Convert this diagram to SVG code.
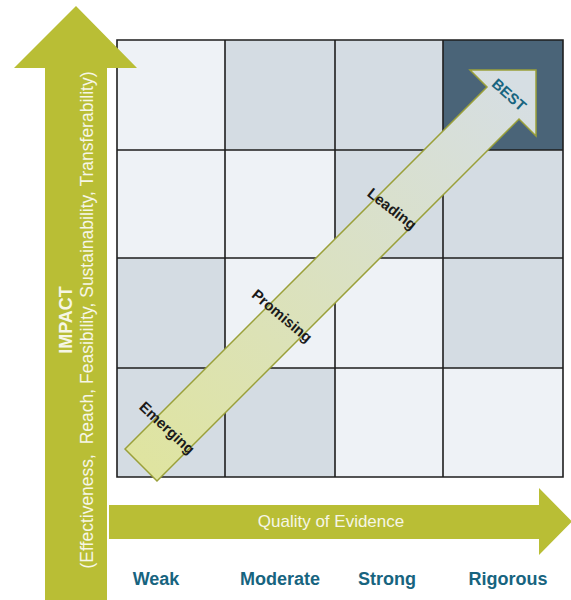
<svg xmlns="http://www.w3.org/2000/svg" width="571" height="600" viewBox="0 0 571 600">
<defs>
<style>
.cl{fill:#eef2f6}
.cm{fill:#d4dce3}
.cd{fill:#4a6478}
.gl{stroke:#1e1e1e;stroke-width:1.6;fill:none}
.axis{fill:#b9be35}
.axt{font-family:"Liberation Sans",Arial,sans-serif;fill:#f6f6e6}
.lvl{font-family:"Liberation Sans",Arial,sans-serif;font-weight:bold;font-size:15px;fill:#1a1a1a;text-anchor:middle}
.q{font-family:"Liberation Sans",Arial,sans-serif;font-weight:bold;font-size:18px;fill:#17647f;text-anchor:middle}
</style>
<linearGradient id="dg" x1="141" y1="464" x2="520" y2="86" gradientUnits="userSpaceOnUse">
<stop offset="0" stop-color="#dfe4a0"/>
<stop offset="1" stop-color="#d6dee3"/>
</linearGradient>
</defs>

<g id="grid">
<rect class="cl" x="117" y="40" width="108" height="110"/>
<rect class="cm" x="225" y="40" width="110" height="110"/>
<rect class="cm" x="335" y="40" width="108" height="110"/>
<rect class="cd" x="443" y="40" width="120" height="110"/>
<rect class="cl" x="117" y="150" width="108" height="108"/>
<rect class="cl" x="225" y="150" width="110" height="108"/>
<rect class="cm" x="335" y="150" width="108" height="108"/>
<rect class="cm" x="443" y="150" width="120" height="108"/>
<rect class="cm" x="117" y="258" width="108" height="110"/>
<rect class="cl" x="225" y="258" width="110" height="110"/>
<rect class="cl" x="335" y="258" width="108" height="110"/>
<rect class="cm" x="443" y="258" width="120" height="110"/>
<rect class="cm" x="117" y="368" width="108" height="109"/>
<rect class="cm" x="225" y="368" width="110" height="109"/>
<rect class="cl" x="335" y="368" width="108" height="109"/>
<rect class="cl" x="443" y="368" width="120" height="109"/>
<path class="gl" d="M117,40H563V477H117Z M225,40V477 M335,40V477 M443,40V477 M117,150H563 M117,258H563 M117,368H563"/>
</g>

<g id="impact-axis">
<polygon class="axis" points="45,600 45,68 14,68 76,6 137,68 107,68 107,600"/>
<text class="axt" transform="translate(72,320) rotate(-90)" text-anchor="middle" font-weight="bold" font-size="18">IMPACT</text>
<text class="axt" transform="translate(93,320) rotate(-90)" text-anchor="middle" font-size="17.5" xml:space="preserve">(Effectiveness,  Reach, Feasibility, Sustainability, Transferability)</text>
</g>

<g id="evidence-axis">
<polygon class="axis" points="109,505 539,505 539,488 572,521.5 539,555 539,539 109,539"/>
<text class="axt" x="331" y="527" text-anchor="middle" font-size="17">Quality of Evidence</text>
</g>

<g id="progress-arrow">
<polygon points="125,449 487,87 470,70 536,70 536,136 519,119 157,481" fill="url(#dg)" stroke="#9aa03a" stroke-width="1.5" stroke-linejoin="miter"/>
</g>

<g id="labels">
<text class="lvl" transform="translate(167,428) rotate(43)" dy="5">Emerging</text>
<text class="lvl" transform="translate(282,316) rotate(40)" dy="5">Promising</text>
<text class="lvl" transform="translate(392,209) rotate(38)" dy="5">Leading</text>
<text class="lvl" transform="translate(509,95) rotate(42)" dy="5" font-size="14" style="fill:#17647f">BEST</text>
</g>

<g id="quality-levels">
<text class="q" x="156" y="585">Weak</text>
<text class="q" x="280" y="585">Moderate</text>
<text class="q" x="387" y="585">Strong</text>
<text class="q" x="508" y="585">Rigorous</text>
</g>
</svg>
